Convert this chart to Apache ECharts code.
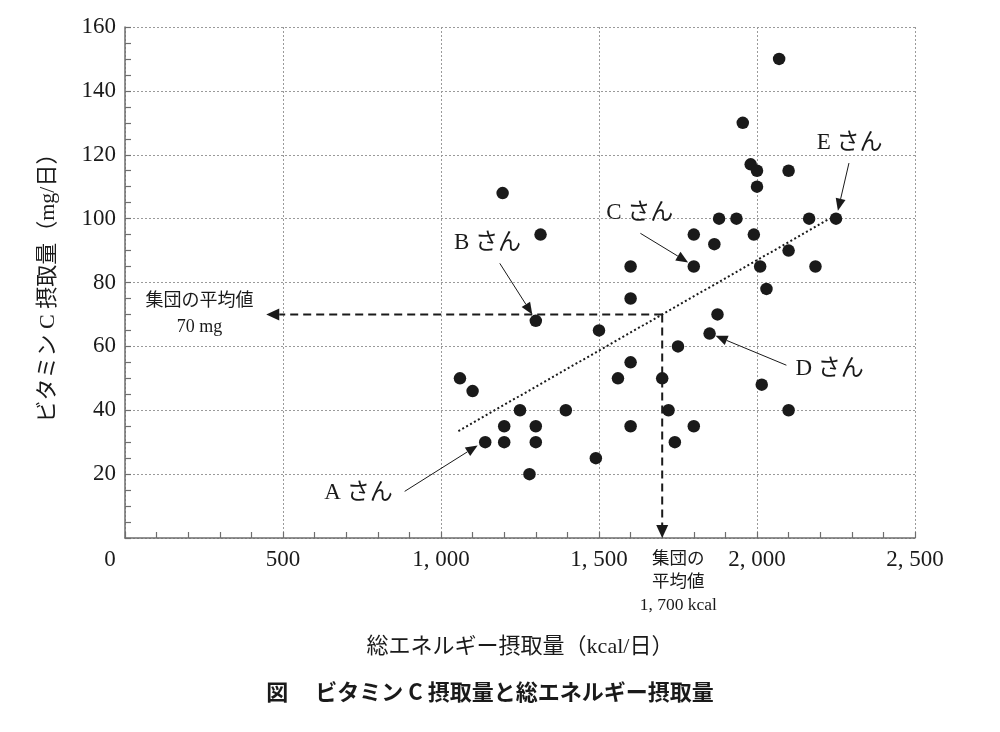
<!DOCTYPE html>
<html>
<head>
<meta charset="utf-8">
<script src="https://cdn.jsdelivr.net/npm/echarts@6.0.0/dist/echarts.min.js"></script>
<style>
  html, body { margin: 0; background: #fff; }
  #chart { width: 1000px; height: 732px; }
</style>
</head>
<body>
<div id="chart"></div>
<script>
// 総エネルギー摂取量 (kcal/日)
var energy = [1060, 1100, 1140, 1200, 1200, 1195, 1250, 1280, 1300, 1300, 1300, 1315, 1395, 1490, 1500, 1560,
  1600, 1600, 1600, 1600, 1700, 1720, 1740, 1750, 1800, 1800, 1800, 1850, 1865, 1875, 1880, 1935,
  1955, 1980, 1990, 2000, 2000, 2010, 2015, 2030, 2070, 2100, 2100, 2100, 2165, 2185, 2250];
// ビタミンC摂取量 (mg/日)
var vitaminC = [50, 46, 30, 35, 30, 108, 40, 20, 35, 30, 68, 95, 40, 25, 65, 50,
  55, 35, 75, 85, 50, 40, 30, 60, 35, 95, 85, 64, 92, 70, 100, 100,
  130, 117, 95, 115, 110, 85, 48, 78, 150, 115, 90, 40, 100, 85, 100];

// 回帰直線（点線）の両端
var trendEnergy = [1055, 2230];
var trendVitC = [33.5, 100];

// 集団の平均値
var meanEnergy = 1700;
var meanVitC = 70;

var xTickLabels = ['0', '500', '1, 000', '1, 500', '2, 000', '2, 500'];
var yTickLabels = ['', '20', '40', '60', '80', '100', '120', '140', '160'];

// 吹き出し（A～Eさん）
var people = ['A さん', 'B さん', 'C さん', 'D さん', 'E さん'];
var labelAt = [[739, 14], [1147, 92.4], [1629, 101.8], [2230, 52.8], [2293, 123.7]];
var arrowFrom = [[885, 14.6], [1186, 86], [1631, 95.4], [2093, 54.1], [2291, 117.4]];
var arrowTo = [[1116, 29], [1289, 70], [1782, 86.3], [1869, 63.3], [2256, 102.5]];

var SERIF = "'Liberation Serif', 'Noto Sans CJK JP', serif";
var INK = '#1a1a1a';
var AXIS = '#6e6e6e';

var chart = echarts.init(document.getElementById('chart'));

var points = energy.map(function (e, i) { return [e, vitaminC[i]]; });
var trend = trendEnergy.map(function (e, i) { return [e, trendVitC[i]]; });

chart.setOption({
  animation: false,
  backgroundColor: '#fff',
  grid: { left: 125, right: 85, top: 27, bottom: 194, containLabel: false, outerBoundsMode: 'none' },
  xAxis: {
    type: 'value', min: 0, max: 2500, interval: 500,
    name: '総エネルギー摂取量（kcal/日）', nameLocation: 'middle', nameGap: 98,
    nameTextStyle: { fontFamily: SERIF, fontSize: 22, color: INK },
    axisLine: { show: true, lineStyle: { color: AXIS, width: 1.5 } },
    axisTick: { show: true, inside: true, length: 6, lineStyle: { color: AXIS, width: 1.2 } },
    minorTick: { show: true, splitNumber: 5, length: 6, lineStyle: { color: AXIS, width: 1.2 } },
    splitLine: { show: true, lineStyle: { color: '#9a9a9a', width: 1, type: [2, 2] } },
    axisLabel: {
      margin: 10, fontFamily: SERIF, fontSize: 23, color: INK,
      formatter: function (v) {
        var t = xTickLabels[Math.round(v / 500)];
        return v === 0 ? '{z|' + t + '}' : t;
      },
      rich: { z: { fontFamily: SERIF, fontSize: 23, color: INK, padding: [0, 30, 0, 0] } }
    }
  },
  yAxis: {
    type: 'value', min: 0, max: 160, interval: 20,
    name: 'ビタミン C 摂取量（mg/日）', nameLocation: 'middle', nameGap: 66, nameRotate: 90,
    nameTextStyle: { fontFamily: SERIF, fontSize: 22, color: INK },
    axisLine: { show: true, lineStyle: { color: AXIS, width: 1.5 } },
    axisTick: { show: true, inside: true, length: 6, lineStyle: { color: AXIS, width: 1.2 } },
    minorTick: { show: true, splitNumber: 4, length: 6, lineStyle: { color: AXIS, width: 1.2 } },
    splitLine: { show: true, lineStyle: { color: '#9a9a9a', width: 1, type: [2, 2] } },
    axisLabel: {
      margin: 9, fontFamily: SERIF, fontSize: 23, color: INK,
      formatter: function (v) { return yTickLabels[Math.round(v / 20)]; }
    }
  },
  series: [
    {
      type: 'line', data: trend, symbol: 'none', silent: true, z: 3,
      lineStyle: { color: INK, width: 2, type: [2, 2.5] }
    },
    {
      type: 'scatter', data: points, symbol: 'circle', symbolSize: 12.5, z: 4,
      itemStyle: { color: INK, opacity: 1 }
    }
  ]
});

// 矢印と注記
function px(p) { return chart.convertToPixel({ gridIndex: 0 }, p); }

function arrow(p0, p1, width, dash, len, half) {
  var dx = p1[0] - p0[0], dy = p1[1] - p0[1];
  var d = Math.sqrt(dx * dx + dy * dy);
  var ux = dx / d, uy = dy / d;
  var bx = p1[0] - ux * len, by = p1[1] - uy * len;
  return [
    { type: 'line', z: 10, shape: { x1: p0[0], y1: p0[1], x2: bx, y2: by },
      style: { stroke: INK, lineWidth: width, lineDash: dash } },
    { type: 'polygon', z: 10,
      shape: { points: [p1, [bx - uy * half, by + ux * half], [bx + uy * half, by - ux * half]] },
      style: { fill: INK } }
  ];
}

var g = [];
var meanPt = px([meanEnergy, meanVitC]);
g = g.concat(arrow(meanPt, px([447, meanVitC]), 2, [8, 5], 13, 6));
g = g.concat(arrow(meanPt, px([meanEnergy, 0]), 2, [8, 5], 13, 6));

people.forEach(function (name, i) {
  g = g.concat(arrow(px(arrowFrom[i]), px(arrowTo[i]), 1, null, 12, 5));
  var c = px(labelAt[i]);
  g.push({ type: 'text', z: 10, x: c[0], y: c[1],
    style: { text: name, fontFamily: SERIF, fontSize: 23, fill: INK, align: 'center', verticalAlign: 'middle' } });
});

var lm = px([236, 70.2]);
g.push({ type: 'text', z: 10, x: lm[0], y: lm[1],
  style: { text: '集団の平均値\n70 mg', fontFamily: SERIF, fontSize: 18, lineHeight: 26, fill: INK,
    align: 'center', verticalAlign: 'middle' } });
var bm = px([1751, -13.9]);
g.push({ type: 'text', z: 10, x: bm[0], y: bm[1],
  style: { text: '集団の\n平均値\n1, 700 kcal', fontFamily: SERIF, fontSize: 17.5, lineHeight: 23, fill: INK,
    align: 'center', verticalAlign: 'middle' } });

g.push({ type: 'text', z: 10, x: 490, y: 692,
  style: { text: '図　 ビタミン C 摂取量と総エネルギー摂取量', fontFamily: "'Noto Sans CJK JP', sans-serif",
    fontWeight: 'bold', fontSize: 22, fill: INK, align: 'center', verticalAlign: 'middle' } });

chart.setOption({ graphic: g });
</script>
</body>
</html>
